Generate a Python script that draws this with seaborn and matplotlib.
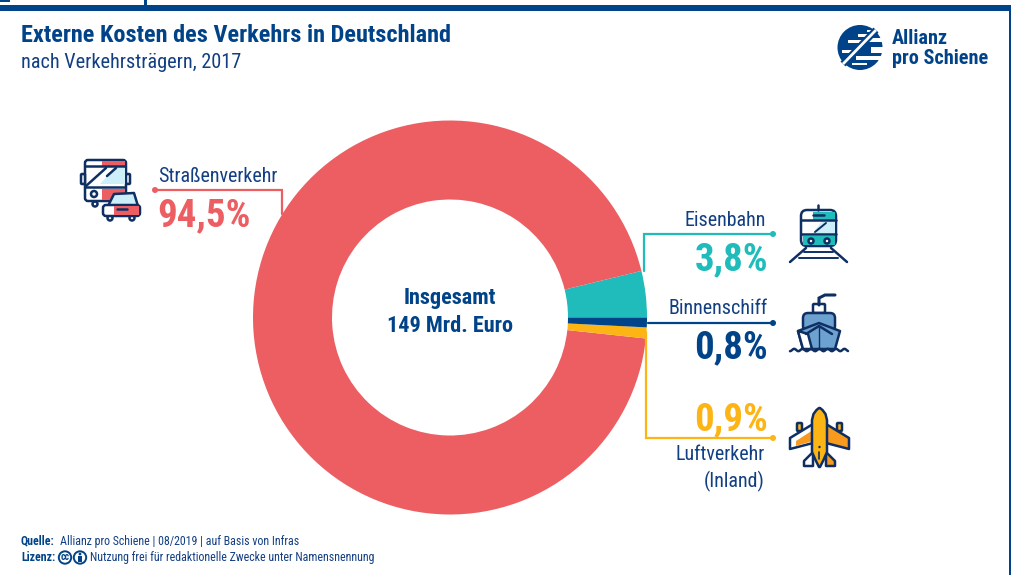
# externe_kosten_donut.py
import matplotlib
matplotlib.use("Agg")
import matplotlib.pyplot as plt
from matplotlib.patches import Circle, FancyBboxPatch, Polygon, Rectangle
import numpy as np
import seaborn as sns

sns.set_style("white")
plt.rcParams['font.family'] = ['Roboto Condensed', 'Liberation Sans', 'DejaVu Sans']

# ============================
# Daten
# ============================
categories = ['Eisenbahn', 'Straßenverkehr', 'Luftverkehr (Inland)', 'Binnenschiff']
shares = [3.8, 94.5, 0.9, 0.8]
share_labels = ['3,8%', '94,5%', '0,9%', '0,8%']
palette = sns.color_palette(['#20BBBB', '#EC5E62', '#FDB515', '#004388'])
TEAL, RED, YELLOW, NAVY = [matplotlib.colors.to_hex(c) for c in palette]
DARK = '#0F2F63'
TEXT = '#123E82'

fig = plt.figure(figsize=(10.12, 5.75), dpi=100)
ax = fig.add_axes([0, 0, 1, 1])

# Donut: y-Achse ist invertiert, daher counterclock=False
ax.pie(shares, colors=palette, startangle=0, counterclock=False, center=(450, 317.5),
       radius=197, frame=True, wedgeprops=dict(width=79, linewidth=0))
ax.set_xlim(0, 1012)
ax.set_ylim(575, 0)
ax.set_aspect('equal')
ax.axis('off')


# ============================
# Hilfsfunktionen
# ============================
def line(xs, ys, color=DARK, lw=1.8, z=4):
    ax.plot(xs, ys, color=color, lw=lw, solid_capstyle='round', solid_joinstyle='miter', zorder=z)


def poly(points, fc, ec=DARK, lw=1.8, z=3):
    ax.add_patch(Polygon(points, closed=True, fc=fc, ec=ec, lw=lw, joinstyle='round', zorder=z))


def rbox(x, y, w, h, fc, ec=DARK, lw=1.8, r=3, z=3):
    ax.add_patch(FancyBboxPatch((x + r, y + r), w - 2 * r, h - 2 * r, boxstyle=f"round,pad={r}",
                                fc=fc, ec=ec, lw=lw, zorder=z))


def dot(x, y, r, fc, ec='none', lw=1.8, z=5):
    ax.add_patch(Circle((x, y), r, fc=fc, ec=ec, lw=lw, zorder=z))


def leader(xs, ys, color):
    ax.plot(xs, ys, color=color, lw=1.6, solid_joinstyle='miter', zorder=2.5)
    dot(xs[0], ys[0], 3, color)


def label(x, y, s, size, color=TEXT, ha='left', weight='normal'):
    ax.text(x, y, s, fontsize=size, color=color, ha=ha, va='center', fontweight=weight, zorder=6)


def bus_car():
    rbox(85, 160, 41, 41, 'white')
    ax.add_patch(Rectangle((102, 161), 23, 5, fc=RED, ec='none', zorder=3.2))
    poly([(100, 184), (125, 184), (125, 168), (115, 168)], '#CDEFFA', ec='none', z=3.2)
    ax.add_patch(Rectangle((102, 189), 23, 11, fc=RED, ec='none', zorder=3.2))
    line([85, 125], [166, 166])
    line([85, 125], [187, 187])
    line([86, 106], [186, 168])
    line([107, 116], [176, 168])
    rbox(81, 174, 4, 10, 'white', r=1)
    rbox(126, 174, 4, 10, 'white', r=1)
    dot(94, 194, 3, 'white', ec=DARK, z=4)
    dot(95, 204, 2.5, 'white', ec=DARK, z=2.9)
    poly([(108, 206), (114, 194), (134, 193), (138, 206)], '#CDEFFA', z=4.1)
    rbox(103, 205, 37, 11, 'white', z=4.2)
    ax.add_patch(Rectangle((114, 206), 25, 9, fc=RED, ec='none', zorder=4.3))
    line([117, 127], [209, 209], z=4.4)
    dot(110, 218, 2.5, 'white', ec=DARK, z=4)
    dot(132, 218, 2.5, 'white', ec=DARK, z=4)


def train():
    line([818, 818], [205, 210])
    rbox(801, 210, 35, 36, 'white', r=6)
    ax.add_patch(Rectangle((813, 212), 22, 8, fc=TEAL, ec='none', zorder=3.2))
    ax.add_patch(Rectangle((803, 236), 32, 9, fc=TEAL, ec='none', zorder=3.2))
    poly([(812, 234), (835, 234), (835, 221), (822, 221)], '#CDEFFA', ec='none', z=3.2)
    line([801, 836], [220, 220])
    line([801, 836], [234, 234])
    line([813, 824], [215, 215])
    line([815, 826], [232, 223], lw=1.4)
    dot(811, 241, 2.5, 'white', ec=DARK)
    dot(827, 241, 2.5, 'white', ec=DARK)
    line([806, 790], [248, 262])
    line([831, 847], [248, 262])
    for y, x0, x1 in [(252, 804, 833), (258, 799, 838)]:
        line([x0, x1], [y, y], lw=1.4)


def ship():
    line([819, 819, 825, 835], [305, 298, 295, 295], lw=2.2)
    rbox(813, 304, 12, 9, 'white', r=1)
    rbox(803, 313, 32, 18, '#6DA2D0', r=5)
    poly([(798, 331), (819, 323), (840, 331), (835, 349), (803, 349)], '#6DA2D0')
    poly([(798, 331), (808, 334), (812, 349), (803, 349)], 'white', z=3.1)
    line([806, 819, 832], [334, 326, 334], z=3.3)
    line([819, 819], [326, 349], lw=1.0, z=3.3)
    wx = np.linspace(790, 848, 60)
    ax.plot(wx, 350 + 1.2 * np.cos((wx - 790) * 0.75), color=DARK, lw=1.8, zorder=4)


def plane():
    cx = 819.5
    poly([(790, 438), (813, 424), (813, 443), (790, 449)], 'white')
    poly([(849, 438), (826, 424), (826, 443), (849, 449)], '#F79A1E')
    poly([(796, 441), (813, 430), (813, 441), (796, 446)], '#F79A1E', ec='none', z=3.1)
    poly([(804, 461), (813, 452), (813, 466), (804, 466)], 'white')
    poly([(835, 461), (826, 452), (826, 466), (835, 466)], '#F79A1E')
    rbox(797, 423, 5, 8, YELLOW, r=1, z=2.9)
    rbox(837, 423, 5, 8, YELLOW, r=1, z=2.9)
    fy = [408, 410, 414, 420, 452, 460, 467]
    fw = [0.5, 3, 6, 7.5, 7.5, 4, 0.5]
    body = [(cx - w, y) for w, y in zip(fw, fy)] + [(cx + w, y) for w, y in zip(fw[::-1], fy[::-1])]
    poly(body, YELLOW, z=4)
    dot(cx, 447, 1.2, DARK)
    line([cx, cx], [452, 459], lw=1.2, z=5)


def logo():
    dot(860, 47.5, 22.5, NAVY, z=3)
    for x, y, w, h in [(867, 30, 8, 2), (858, 34, 14, 3), (848, 40, 14, 3), (868, 38, 15, 4),
                       (842, 50, 11, 2.5), (871, 47, 13, 6), (856, 56, 27, 4), (852, 63, 15, 2)]:
        ax.add_patch(Rectangle((x, y), w, h, fc='white', ec='none', zorder=4))
    ax.plot([843, 876], [64, 30], color=NAVY, lw=5, solid_capstyle='butt', zorder=4.5)
    ax.plot([843, 876], [64, 30], color='white', lw=2.0, solid_capstyle='butt', zorder=5)
    label(892, 38.5, 'Allianz', 14.6, color=NAVY, weight='bold')
    label(892, 59, 'pro Schiene', 14.6, color=NAVY, weight='bold')


def cc_icons():
    dot(65, 557.5, 6.2, 'white', ec=NAVY, lw=1.4)
    label(65, 557.5, 'cc', 7, color=NAVY, ha='center', weight='bold')
    dot(80, 557.5, 6.2, 'white', ec=NAVY, lw=1.4)
    dot(80, 554, 1.4, NAVY, z=6)
    ax.add_patch(Rectangle((78.3, 556), 3.4, 6, fc=NAVY, ec='none', zorder=6))


# ============================
# Rahmen, Titel
# ============================
ax.add_patch(Rectangle((0, 5), 1012, 5.5, fc=NAVY, ec='none'))
ax.add_patch(Rectangle((144.5, 0), 3, 6, fc=NAVY, ec='none'))
ax.add_patch(Rectangle((0, 0), 10, 1.5, fc=NAVY, ec='none'))
ax.add_patch(Rectangle((1009.5, 5), 2, 570, fc=NAVY, ec='none'))

label(21, 36, 'Externe Kosten des Verkehrs in Deutschland', 17.5, color=NAVY, weight='bold')
label(21, 62.5, 'nach Verkehrsträgern, 2017', 14.6)

# ============================
# Beschriftung
# ============================
leader([155, 282, 282], [190, 190, 214], RED)
leader([773, 644, 644], [234, 234, 271], TEAL)
leader([773, 648], [323, 323], NAVY)
leader([773, 646, 646], [438, 438, 332], YELLOW)

label(158.5, 177, categories[1], 14.4)
label(157.5, 216, share_labels[1], 28, color=RED, weight='bold')
label(766, 221, categories[0], 14.4, ha='right')
label(768, 260, share_labels[0], 28, color=TEAL, ha='right', weight='bold')
label(768, 309, categories[3], 14.4, ha='right')
label(768, 348, share_labels[3], 28, color=NAVY, ha='right', weight='bold')
label(768, 420, share_labels[2], 28, color=YELLOW, ha='right', weight='bold')
label(765, 454, 'Luftverkehr', 14.4, ha='right')
label(765, 481, '(Inland)', 14.4, ha='right')

label(450, 298, 'Insgesamt', 16, color=NAVY, ha='center', weight='bold')
label(450, 326, '149 Mrd. Euro', 16, color=NAVY, ha='center', weight='bold')

label(21, 541, 'Quelle:', 8.6, color=NAVY, weight='bold')
label(60, 541, 'Allianz pro Schiene | 08/2019 | auf Basis von Infras', 8.6)
label(21, 557.5, 'Lizenz:', 8.6, color=NAVY, weight='bold')
label(90, 557.5, 'Nutzung frei für redaktionelle Zwecke unter Namensnennung', 8.6)

bus_car()
train()
ship()
plane()
logo()
cc_icons()

fig.savefig('out.png', dpi=100, facecolor='white')
